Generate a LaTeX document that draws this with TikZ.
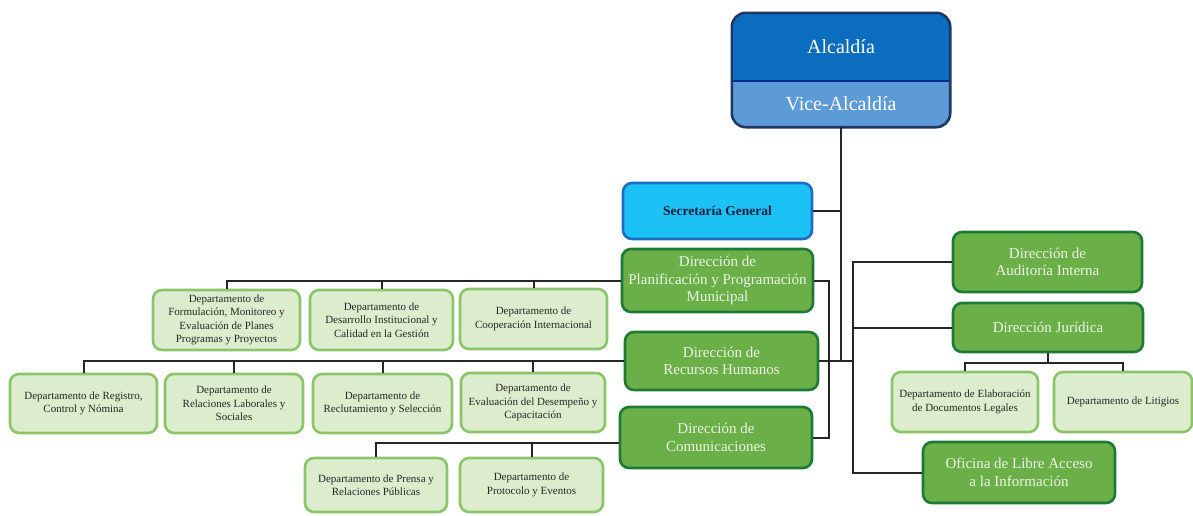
\documentclass[tikz,border=0pt]{standalone}
\usepackage{fontspec}
\setmainfont{Liberation Serif}
\usetikzlibrary{backgrounds}
\definecolor{alcblue}{RGB}{12,108,190}
\definecolor{viceblue}{RGB}{92,155,213}
\definecolor{bossborder}{RGB}{30,55,100}
\definecolor{bossline}{RGB}{0,45,140}
\definecolor{secblue}{RGB}{28,194,246}
\definecolor{secborder}{RGB}{26,108,196}
\definecolor{sectext}{RGB}{20,30,60}
\definecolor{dirgreen}{RGB}{107,175,72}
\definecolor{dirborder}{RGB}{30,122,52}
\definecolor{dirtext}{RGB}{236,246,228}
\definecolor{deptgreen}{RGB}{220,237,206}
\definecolor{deptborder}{RGB}{140,196,106}
\tikzset{
  box node/.style={
    rounded corners=9pt,
    align=center,
    inner sep=2pt,
    line width=2.6pt,
  },
  dir node/.style={
    box node,
    draw=dirborder,
    fill=dirgreen,
    text=dirtext,
    font=\fontsize{15}{17.5}\selectfont,
  },
  dept node/.style={
    box node,
    draw=deptborder,
    fill=deptgreen,
    text=black!85,
    font=\fontsize{11}{13.5}\selectfont,
  },
  sec node/.style={
    box node,
    draw=secborder,
    fill=secblue,
    text=sectext,
    font=\bfseries\fontsize{13.5}{15}\selectfont,
  },
  boss node/.style={
    minimum width=218pt,
    inner sep=0pt,
    text=white,
    font=\fontsize{20}{24}\selectfont,
  },
  link/.style={line width=2pt, draw=black!85},
}

\begin{document}
\begin{tikzpicture}[x=1pt, y=-1pt]
  \useasboundingbox (0,0) rectangle (1193,515);

  % top
  \node[boss node, minimum height=68pt] (alc) at (841,47) {Alcaldía};
  \node[boss node, minimum height=46pt] (vice) at (841,104) {Vice-Alcaldía};
  \begin{scope}[on background layer]
    \clip[rounded corners=14pt] (alc.north west) rectangle (vice.south east);
    \fill[alcblue] (alc.north west) rectangle (alc.south east);
    \fill[viceblue] (vice.north west) rectangle (vice.south east);
  \end{scope}
  \draw[bossline, line width=1.6pt] (alc.south west) -- (alc.south east);
  \draw[bossborder, line width=2.6pt, rounded corners=14pt] (alc.north west) rectangle (vice.south east);

  \node[sec node, minimum width=189pt, minimum height=56pt] (sec) at (717.5,211) {Secretaría General};

  % left directions
  \node[dir node, minimum width=191pt, minimum height=63pt] (plan) at (717.5,280.5) {Dirección de\\Planificación y Programación\\Municipal};
  \node[dir node, minimum width=193pt, minimum height=58pt] (rrhh) at (721.5,361) {Dirección de\\Recursos Humanos};
  \node[dir node, minimum width=192pt, minimum height=61pt] (com) at (716,437.5) {Dirección de\\Comunicaciones};

  \node[dept node, minimum width=147pt, minimum height=60pt] (formu) at (226.5,320) {Departamento de\\Formulación, Monitoreo y\\Evaluación de Planes\\Programas y Proyectos};
  \node[dept node, minimum width=143pt, minimum height=60pt] (desar) at (381.5,320) {Departamento de\\Desarrollo Institucional y\\Calidad en la Gestión};
  \node[dept node, minimum width=147pt, minimum height=60pt] (coop) at (533.5,319) {Departamento de\\Cooperación Internacional};

  \node[dept node, minimum width=147pt, minimum height=59pt] (regis) at (83.5,403.5) {Departamento de Registro,\\Control y Nómina};
  \node[dept node, minimum width=138pt, minimum height=59pt] (relac) at (234,403.5) {Departamento de\\Relaciones Laborales y\\Sociales};
  \node[dept node, minimum width=139pt, minimum height=59pt] (reclu) at (382.5,403.5) {Departamento de\\Reclutamiento y Selección};
  \node[dept node, minimum width=144pt, minimum height=59pt] (evalu) at (533,402.5) {Departamento de\\Evaluación del Desempeño y\\Capacitación};

  \node[dept node, minimum width=142pt, minimum height=54pt] (prensa) at (376,485) {Departamento de Prensa y\\Relaciones Públicas};
  \node[dept node, minimum width=143pt, minimum height=54pt] (proto) at (531.5,485) {Departamento de\\Protocolo y Eventos};

  % right directions
  \node[dir node, minimum width=189pt, minimum height=60pt] (aud) at (1047.5,262) {Dirección de\\Auditoría Interna};
  \node[dir node, minimum width=190pt, minimum height=49pt] (jur) at (1048,327.5) {Dirección Jurídica};
  \node[dir node, minimum width=192pt, minimum height=61pt] (ofi) at (1019,472.5) {Oficina de Libre Acceso\\a la Información};

  \node[dept node, minimum width=146pt, minimum height=60pt] (elab) at (965,402) {Departamento de Elaboración\\de Documentos Legales};
  \node[dept node, minimum width=138pt, minimum height=60pt] (liti) at (1123,402) {Departamento de Litigios};

  % connectors
  \coordinate (hub) at (vice.south |- rrhh.east);
  \coordinate (rbus) at (853,361);
  \coordinate (combus) at ([yshift=-5pt]com.west);
  \draw[link] (vice.south) -- (hub);
  \draw[link] (sec.east) -- (sec.east -| vice.south);
  \draw[link] (plan.east) -- ++(15,0) |- (com.east);
  \draw[link] (rrhh.east) -- (rbus);
  \draw[link] (aud.west) -| (rbus) |- (ofi.west);
  \draw[link] (jur.west) -- (jur.west -| rbus);
  \draw[link] (jur.south) -- ++(0,10) -| (elab.north);
  \draw[link] (jur.south) ++(0,10) -| (liti.north);

  \draw[link] (plan.west) -| (formu.north);
  \draw[link] (desar.north) -- (desar.north |- plan.west);
  \draw[link] (coop.north) -- (coop.north |- plan.west);

  \draw[link] (rrhh.west) -| (regis.north);
  \draw[link] (relac.north) -- (relac.north |- rrhh.west);
  \draw[link] (reclu.north) -- (reclu.north |- rrhh.west);
  \draw[link] (evalu.north) -- (evalu.north |- rrhh.west);

  \draw[link] (combus) -| (prensa.north);
  \draw[link] (proto.north) -- (proto.north |- combus);
\end{tikzpicture}
\end{document}
